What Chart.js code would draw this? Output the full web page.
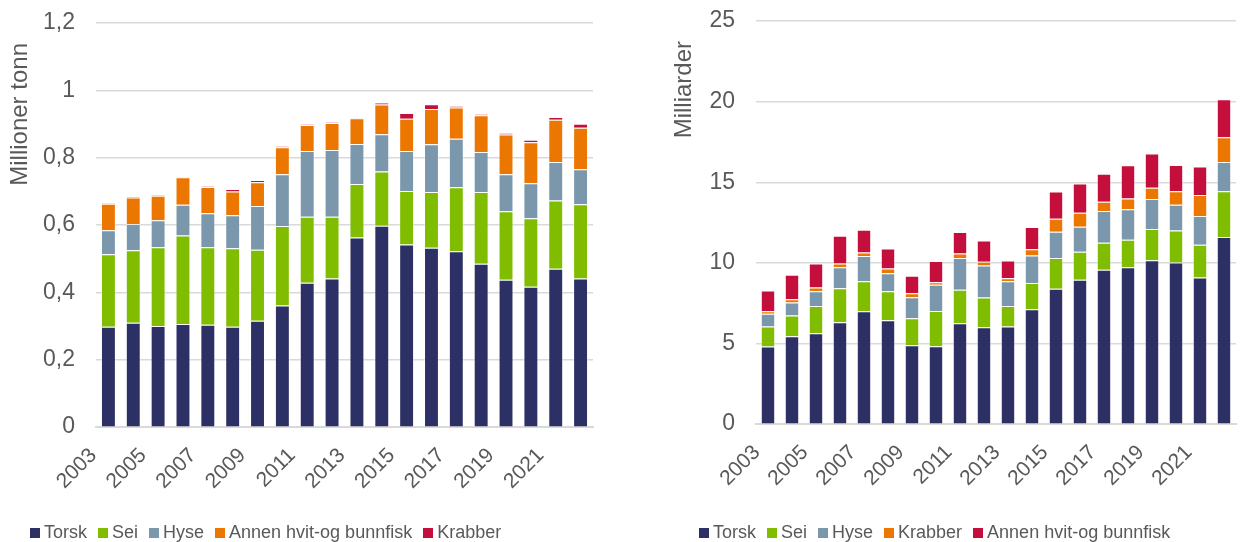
<!DOCTYPE html>
<html>
<head>
<meta charset="utf-8">
<script src="https://cdn.jsdelivr.net/npm/chart.js@4/dist/chart.umd.min.js"></script>
<style>
    html, body { margin: 0; padding: 0; background: #fff; overflow: hidden; }
    body { width: 1242px; height: 542px; position: relative; font-family: "Liberation Sans", Arial, sans-serif; }
    .panel { position: absolute; top: 0; height: 542px; }
    .legend { position: absolute; top: 522px; display: flex; white-space: nowrap; font-size: 18px; color: #595959; }
    .legend span { display: inline-flex; align-items: center; margin-right: 11px; }
    .legend i { display: inline-block; width: 10px; height: 10px; margin-right: 4px; }
</style>
</head>
<body>
<div class="panel" style="left:0;width:610px"><canvas id="volume"></canvas></div>
<div class="panel" style="left:640px;width:602px"><canvas id="value"></canvas></div>
<div class="legend" id="legendVolume" style="left:30px"></div>
<div class="legend" id="legendValue" style="left:699px"></div>
<script>
const years = ["2003", "2004", "2005", "2006", "2007", "2008", "2009", "2010", "2011", "2012",
    "2013", "2014", "2015", "2016", "2017", "2018", "2019", "2020", "2021", "2022"];

// left: fangst, millioner tonn
const volTorsk = [0.298, 0.310, 0.300, 0.306, 0.304, 0.298, 0.316, 0.361, 0.429, 0.441,
    0.563, 0.598, 0.542, 0.533, 0.522, 0.485, 0.438, 0.417, 0.470, 0.441];
const volSei = [0.215, 0.215, 0.234, 0.263, 0.230, 0.233, 0.211, 0.236, 0.196, 0.184,
    0.159, 0.161, 0.159, 0.165, 0.190, 0.213, 0.203, 0.203, 0.203, 0.221];
const volHyse = [0.072, 0.078, 0.080, 0.091, 0.101, 0.098, 0.130, 0.154, 0.195, 0.198,
    0.119, 0.111, 0.119, 0.142, 0.144, 0.119, 0.110, 0.104, 0.114, 0.104];
const volAnnen = [0.078, 0.079, 0.073, 0.082, 0.078, 0.071, 0.070, 0.080, 0.077, 0.080,
    0.076, 0.088, 0.096, 0.105, 0.093, 0.109, 0.118, 0.122, 0.126, 0.123];
const volKrabber = [0.002, 0.003, 0.002, 0.002, 0.002, 0.007, 0.007, 0.003, 0.002, 0.002,
    0.002, 0.006, 0.017, 0.014, 0.004, 0.003, 0.004, 0.007, 0.008, 0.012];

// right: verdi, milliarder kroner
const valTorsk = [4.81, 5.45, 5.63, 6.32, 7.00, 6.44, 4.89, 4.83, 6.26, 6.01,
    6.05, 7.13, 8.39, 8.95, 9.57, 9.73, 10.17, 10.02, 9.09, 11.60];
const valSei = [1.24, 1.28, 1.70, 2.11, 1.86, 1.80, 1.68, 2.19, 2.07, 1.84,
    1.28, 1.63, 1.92, 1.74, 1.68, 1.70, 1.93, 1.99, 2.03, 2.84];
const valHyse = [0.79, 0.81, 0.91, 1.30, 1.56, 1.12, 1.30, 1.62, 1.98, 1.99,
    1.53, 1.70, 1.62, 1.55, 1.96, 1.89, 1.86, 1.60, 1.78, 1.82];
const valKrabber = [0.16, 0.21, 0.23, 0.23, 0.23, 0.29, 0.25, 0.16, 0.27, 0.23,
    0.19, 0.39, 0.81, 0.87, 0.58, 0.68, 0.70, 0.83, 1.31, 1.53];
const valAnnen = [1.28, 1.51, 1.49, 1.72, 1.40, 1.24, 1.08, 1.31, 1.33, 1.32,
    1.10, 1.37, 1.68, 1.82, 1.74, 2.05, 2.12, 1.63, 1.76, 2.36];

const volTicks = [0, 0.2, 0.4, 0.6, 0.8, 1, 1.2];
const valTicks = [0, 5, 10, 15, 20, 25];

const NAVY = "#2D3064";
const GREEN = "#80BC00";
const GREY_BLUE = "#7B97AC";
const ORANGE = "#EC7700";
const RED = "#C40E3C";
const TEXT = "#595959";
const FONT = "'Liberation Sans', Arial, sans-serif";
const TITLE_GAP = "\u00a0\u00a0\u00a0"; // pushes the top-aligned axis title a bit down

function ds(label, data, color) {
    return {
        label, data,
        backgroundColor: color,
        borderColor: "rgba(255,255,255,0.35)",
        borderWidth: 1,
        barPercentage: 0.6,
        categoryPercentage: 1,
    };
}

// axisWidth: y-axis box width, so the plot starts where it does in the original
function buildChart(id, datasets, ticks, title, pad, axisWidth, labelShift) {
    return new Chart(document.getElementById(id), {
        type: "bar",
        data: { labels: years, datasets },
        options: {
            responsive: true,
            maintainAspectRatio: false,
            animation: false,
            layout: { padding: pad },
            plugins: { legend: { display: false }, tooltip: { enabled: false } },
            scales: {
                x: {
                    stacked: true,
                    grid: { display: false },
                    border: { color: "#D9D9D9", width: 2 },
                    afterFit: (axis) => { axis.paddingLeft = 0; axis.paddingRight = 0; },
                    ticks: {
                        autoSkip: false,
                        maxRotation: 45,
                        minRotation: 45,
                        padding: 8,
                        labelOffset: labelShift,
                        color: TEXT,
                        font: { family: FONT, size: 21 },
                        callback: function (v, i) { return i % 2 === 0 ? this.getLabelForValue(v) : ""; },
                    },
                },
                y: {
                    stacked: true,
                    min: ticks[0],
                    max: ticks[ticks.length - 1],
                    afterBuildTicks: (axis) => { axis.ticks = ticks.map((v) => ({ value: v })); },
                    afterFit: (axis) => {
                        axis.width = axisWidth;
                        axis.paddingTop = 0;
                        axis.paddingBottom = 0;
                    },
                    grid: { color: "#D9D9D9", lineWidth: 1.5, drawTicks: false },
                    border: { display: false },
                    title: {
                        display: true, text: title + TITLE_GAP, color: TEXT, align: "end",
                        font: { family: FONT, size: 24 }, padding: 0,
                    },
                    ticks: {
                        padding: 21,
                        color: TEXT,
                        font: { family: FONT, size: 23 },
                        callback: (v) => String(Math.round(v * 10) / 10).replace(".", ","),
                    },
                },
            },
        },
    });
}

function buildLegend(id, datasets) {
    const el = document.getElementById(id);
    datasets.forEach((d) => {
        const s = document.createElement("span");
        s.innerHTML = '<i style="background:' + d.backgroundColor + '"></i>' + d.label;
        el.appendChild(s);
    });
}

const volSets = [
    ds("Torsk", volTorsk, NAVY),
    ds("Sei", volSei, GREEN),
    ds("Hyse", volHyse, GREY_BLUE),
    ds("Annen hvit-og bunnfisk", volAnnen, ORANGE),
    ds("Krabber", volKrabber, RED),
];
const valSets = [
    ds("Torsk", valTorsk, NAVY),
    ds("Sei", valSei, GREEN),
    ds("Hyse", valHyse, GREY_BLUE),
    ds("Krabber", valKrabber, ORANGE),
    ds("Annen hvit-og bunnfisk", valAnnen, RED),
];

buildChart("volume", volSets, volTicks, "Millioner tonn", { left: 6, right: 17, top: 23, bottom: 40 }, 90, -15);
buildChart("value", valSets, valTicks, "Milliarder", { left: 30, right: 6, top: 21, bottom: 43 }, 86, -11);
buildLegend("legendVolume", volSets);
buildLegend("legendValue", valSets);
</script>
</body>
</html>
